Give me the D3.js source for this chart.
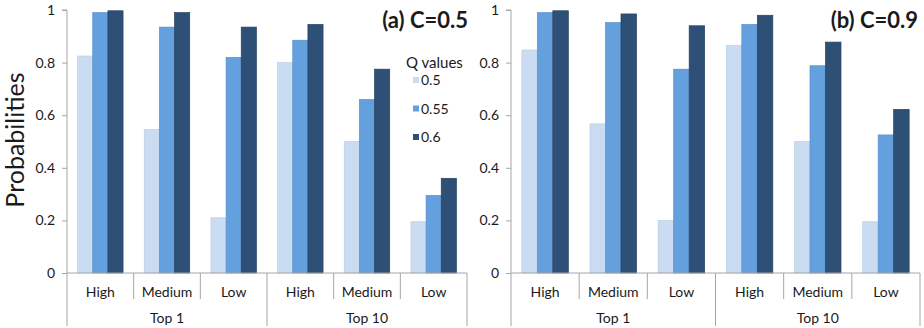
<!DOCTYPE html>
<html>
<head>
<meta charset="utf-8">
<script src="https://cdn.jsdelivr.net/npm/d3@7"></script>
<style>
  body { margin: 0; background: #fff; }
  text { font-family: Lato, "Open Sans", sans-serif; fill: #1a1a1a; }
</style>
</head>
<body>
<svg id="chart" width="924" height="328"></svg>
<script>
const groups = ['Top 1', 'Top 10'];
const levels = ['High', 'Medium', 'Low'];
const qValues = ['0.5', '0.55', '0.6'];
const yTicks = [0, 0.2, 0.4, 0.6, 0.8, 1];

// panel (a) C=0.5, one array per Q value, order: Top1 H/M/L, Top10 H/M/L
const a_q05 = [0.825, 0.545, 0.21, 0.80, 0.50, 0.195];
const a_q055 = [0.99, 0.935, 0.82, 0.885, 0.66, 0.295];
const a_q06 = [0.997, 0.99, 0.935, 0.945, 0.775, 0.36];

// panel (b) C=0.9
const b_q05 = [0.848, 0.567, 0.20, 0.865, 0.50, 0.195];
const b_q055 = [0.99, 0.952, 0.775, 0.945, 0.788, 0.525];
const b_q06 = [0.997, 0.985, 0.94, 0.98, 0.878, 0.622];

const colors = ['#c9dcf2', '#65a0de', '#2e5077'];
const strokes = ['#bccfe6', '#5a90cc', '#26425f'];
const axisColor = '#a6a6a6';

const svg = d3.select('#chart');

const cats = groups.flatMap(g => levels.map(l => g + '|' + l));

const drawPanel = (opts, series) => {
  const g = svg.append('g');
  const x = d3.scaleBand().domain(cats).range([opts.x0, opts.x1]);
  const xs = d3.scaleBand().domain(qValues).range([0, x.bandwidth()]).paddingOuter(0.7);
  const y = d3.scaleLinear().domain([0, 1]).range([273, 10]);

  // y axis
  const yAxis = g.append('g').attr('transform', `translate(${opts.x0},0)`)
    .call(d3.axisLeft(y).tickValues(yTicks).tickSize(5).tickPadding(7).tickFormat(d3.format('~g')));
  yAxis.select('.domain').attr('stroke', axisColor).attr('d', `M-5,${y(1)}H0V${y(0)}`);
  yAxis.selectAll('.tick line').attr('stroke', axisColor);
  yAxis.selectAll('.tick text').style('font-size', '14px').attr('fill', '#1a1a1a');

  // bars
  qValues.forEach((q, si) => {
    g.append('g').selectAll('rect').data(series[si]).join('rect')
      .attr('x', (d, i) => x(cats[i]) + xs(q))
      .attr('y', d => y(d))
      .attr('width', xs.bandwidth())
      .attr('height', d => y(0) - y(d))
      .attr('fill', colors[si])
      .attr('stroke', strokes[si])
      .attr('stroke-width', 0.7);
  });

  // x axis line
  g.append('line').attr('x1', opts.x0).attr('x2', opts.x1).attr('y1', y(0)).attr('y2', y(0))
    .attr('stroke', axisColor);

  // level dividers and labels
  cats.forEach((c, i) => {
    const major = i % 3 === 0;
    g.append('line').attr('x1', x(c)).attr('x2', x(c)).attr('y1', y(0)).attr('y2', major ? 326 : 299)
      .attr('stroke', axisColor);
    g.append('text').attr('x', x(c) + x.bandwidth() / 2).attr('y', 297)
      .attr('text-anchor', 'middle').style('font-size', '14px').text(c.split('|')[1]);
  });
  g.append('line').attr('x1', opts.x1).attr('x2', opts.x1).attr('y1', y(0)).attr('y2', 326)
    .attr('stroke', axisColor);

  groups.forEach((gr, gi) => {
    const first = x(gr + '|' + levels[0]);
    const last = x(gr + '|' + levels[2]) + x.bandwidth();
    g.append('text').attr('x', (first + last) / 2).attr('y', 323)
      .attr('text-anchor', 'middle').style('font-size', '14px').text(gr);
  });

  g.append('text').attr('x', opts.titleX).attr('y', 28).attr('text-anchor', 'end')
    .style('font-size', '22px').style('font-weight', 'bold').text(opts.title);

  return {g, x, y};
};

drawPanel({x0: 67, x1: 467, title: '(a) C=0.5', titleX: 468}, [a_q05, a_q055, a_q06]);
drawPanel({x0: 511, x1: 920, title: '(b) C=0.9', titleX: 918}, [b_q05, b_q055, b_q06]);

// y label
svg.append('text').attr('transform', 'translate(24,140) rotate(-90)')
  .attr('text-anchor', 'middle').style('font-size', '25px').text('Probabilities');

// legend
const legend = svg.append('g').attr('transform', 'translate(406,0)');
legend.append('text').attr('x', 0).attr('y', 68).style('font-size', '15px').text('Q values');
const ly = d3.scalePoint().domain(qValues).range([80, 137]);
legend.selectAll('rect').data(qValues).join('rect')
  .attr('x', 7).attr('y', d => ly(d) - 3).attr('width', 6).attr('height', 6)
  .attr('fill', (d, i) => colors[i]);
legend.selectAll('text.lab').data(qValues).join('text').attr('class', 'lab')
  .attr('x', 15).attr('y', d => ly(d) + 5).style('font-size', '14px').text(d => d);
</script>
</body>
</html>
